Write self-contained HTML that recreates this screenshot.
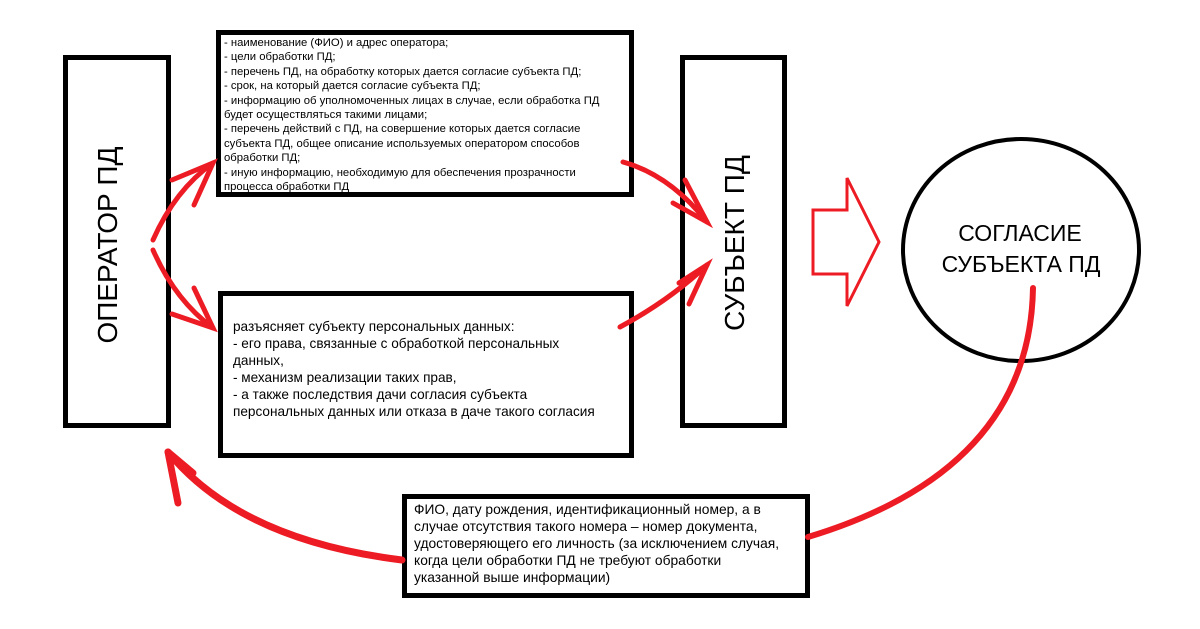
<!DOCTYPE html>
<html><head><meta charset="utf-8"><style>
html,body{margin:0;padding:0;background:#fff;}
body{width:1200px;height:629px;position:relative;overflow:hidden;font-family:"Liberation Sans","DejaVu Sans",sans-serif;}
.box{position:absolute;border:5px solid #000;box-sizing:border-box;background:#fff;}
.t{position:absolute;color:#000;white-space:nowrap;}
</style></head><body>
<div class="box" style="left:63px;top:55px;width:108px;height:373px;"></div>
<div class="box" style="left:680px;top:55px;width:107px;height:373px;"></div>
<div class="box" style="left:216px;top:30px;width:418px;height:167px;"></div>
<div class="box" style="left:218px;top:291px;width:416px;height:167px;"></div>
<div class="box" style="left:402px;top:494px;width:408px;height:104px;"></div>

<div class="t" style="left:224px;top:36px;font-size:11.3px;line-height:14.4px;">
- наименование (ФИО) и адрес оператора;<br>- цели обработки ПД;<br>- перечень ПД, на обработку которых дается согласие субъекта ПД;<br>- срок, на который дается согласие субъекта ПД;<br>- информацию об уполномоченных лицах в случае, если обработка ПД<br>будет осуществляться такими лицами;<br>- перечень действий с ПД, на совершение которых дается согласие<br>субъекта ПД, общее описание используемых оператором способов<br>обработки ПД;<br>- иную информацию, необходимую для обеспечения прозрачности<br>процесса обработки ПД
</div>
<div class="t" style="left:233px;top:318px;font-size:13.6px;line-height:17px;">
разъясняет субъекту персональных данных:<br>- его права, связанные с обработкой персональных<br>данных,<br>- механизм реализации таких прав,<br>- а также последствия дачи согласия субъекта<br>персональных данных или отказа в даче такого согласия
</div>
<div class="t" style="left:414px;top:501px;font-size:13.8px;line-height:17px;">
ФИО, дату рождения, идентификационный номер, а в<br>случае отсутствия такого номера – номер документа,<br>удостоверяющего его личность (за исключением случая,<br>когда цели обработки ПД не требуют обработки<br>указанной выше информации)
</div>

<div class="t" style="left:108px;top:245px;font-size:28px;transform:translate(-50%,-50%) rotate(-90deg);">ОПЕРАТОР ПД</div>
<div class="t" style="left:735px;top:243px;font-size:28px;transform:translate(-50%,-50%) rotate(-90deg);">СУБЪЕКТ ПД</div>

<svg width="1200" height="629" style="position:absolute;left:0;top:0;" viewBox="0 0 1200 629">
<ellipse cx="1021" cy="250" rx="118" ry="111" fill="none" stroke="#000" stroke-width="4"/>
<text x="1020" y="241" font-family="Liberation Sans, sans-serif" font-size="23" text-anchor="middle">СОГЛАСИЕ</text>
<text x="1021" y="272" font-family="Liberation Sans, sans-serif" font-size="23" text-anchor="middle">СУБЪЕКТА ПД</text>
<polygon points="813,210 847,210 847,178 879,242 847,306 847,274 813,274" fill="none" stroke="#ed1c24" stroke-width="3"/>
<g fill="none" stroke="#ed1c24" stroke-width="5" stroke-linecap="round">
<path d="M153,240 Q175,190 213,163"/>
<path d="M172,180 L213,163 L194,205"/>
<path d="M153,250 Q175,300 213,328"/>
<path d="M194,288 L213,328 L172,314"/>
<path d="M623,162 Q670,175 707,222"/>
<path d="M685,180 L707,222 L673,203"/>
<path d="M620,327 Q670,300 707,265"/>
<path d="M679,283 L707,265 L689,304"/>
<path d="M1033,288 Q1030,470 808,537" stroke-width="6"/>
<path d="M402,560 Q240,540 168,452" stroke-width="7"/>
<path d="M168,452 L193,473 M168,452 L178,503" stroke-width="7"/>
</g>
</svg>
</body></html>
